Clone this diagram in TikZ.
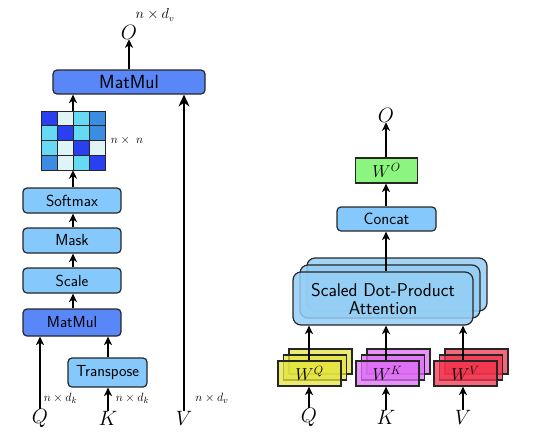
\documentclass[tikz,border=0pt]{standalone}
\usetikzlibrary{arrows.meta}
\definecolor{lbox}{HTML}{85C8FB}
\definecolor{dbox}{HTML}{5A87F7}
\definecolor{gbox}{HTML}{8CF57F}
\definecolor{abox}{HTML}{94CEF4}
\definecolor{ybox}{HTML}{E4E440}
\definecolor{pbox}{HTML}{DE6EF5}
\definecolor{rbox}{HTML}{F2344E}
\definecolor{cdk}{HTML}{2A3FF0}
\definecolor{cvl}{HTML}{E0F3F7}
\definecolor{ccy}{HTML}{66D9F5}
\definecolor{cmd}{HTML}{3A8DE0}
\definecolor{edge}{HTML}{262626}
\begin{document}
\begin{tikzpicture}[x=1pt,y=-1pt,
  opbox/.style={draw=edge, line width=1.2pt, rounded corners=4pt, fill=lbox,
    inner sep=0pt, font=\sffamily\fontsize{16}{19}\selectfont},
  wbox/.style={draw=edge, line width=1.2pt, inner sep=0pt, minimum width=63pt,
    minimum height=25pt, font=\fontsize{17}{20}\selectfont},
  attbox/.style={draw=edge, line width=1.2pt, rounded corners=8pt, fill=abox,
    fill opacity=0.85, minimum width=180pt, minimum height=53pt, inner sep=0pt,
    align=center, font=\sffamily\fontsize{18.5}{19}\selectfont},
  var/.style={inner sep=0pt, font=\fontsize{20}{24}\selectfont},
  dim/.style={inner sep=0pt, font=\fontsize{12.5}{14}\selectfont},
  arr/.style={line width=1.4pt, -{Stealth[length=8.5pt,width=8pt,inset=2.5pt]}},
  bigarr/.style={line width=1.4pt, -{Stealth[length=12pt,width=11pt,inset=4pt]}}
]
\useasboundingbox (0,0) rectangle (540,445);

% ---------------- left: scaled dot-product attention ----------------
\node[var] (Ol) at (129,32) {$O$};
\node[dim, font=\fontsize{13.5}{15}\selectfont] (Ldv) at (155,15) {$n\times d_v$};
\node[opbox, fill=dbox, minimum width=152pt, minimum height=24pt,
  font=\sffamily\fontsize{19}{21}\selectfont] (mm2) at (129,82) {MatMul};
\node[inner sep=0pt, minimum width=64pt, minimum height=59pt] (mat) at (73,140.5) {};
\foreach \c [count=\i from 0] in {cdk,cvl,ccy,cmd, ccy,cdk,ccy,cmd, ccy,cvl,cdk,cvl, cmd,cvl,ccy,cdk}{
  \pgfmathtruncatemacro\rr{int(\i/4)}
  \pgfmathtruncatemacro\cc{mod(\i,4)}
  \draw[fill=\c, draw=edge, line width=1pt] ({41+16*\cc},{111+14.75*\rr}) rectangle ++(16,14.75);
}
\node[dim, font=\fontsize{13}{15}\selectfont] (Lnn) at (127,140) {$n\times\;n$};
\node[opbox, minimum width=98pt, minimum height=25pt] (soft) at (72,200.5) {Softmax};
\node[opbox, minimum width=98pt, minimum height=25pt] (mask) at (72,240.5) {Mask};
\node[opbox, minimum width=98pt, minimum height=25pt] (scale) at (72,280.5) {Scale};
\node[opbox, fill=dbox, minimum width=98pt, minimum height=27pt] (mm1) at (72,322.5) {MatMul};
\node[opbox, minimum width=79pt, minimum height=29pt] (tr) at (107.5,372.5) {Transpose};
\node[var] (Ql) at (40,418) {$Q$};
\node[var] (Kl) at (108,418) {$K$};
\node[var] (Vl) at (184,418) {$V$};
\node[dim] (Ldk1) at (60.5,398) {$n\times d_k$};
\node[dim] (Ldk2) at (132.5,398) {$n\times d_k$};
\node[dim] (Ldv2) at (212,398) {$n\times d_v$};

\draw[arr] (mm2.north -| Ol) -- (Ol.south);
\draw[arr] (mat.north) -- (mat.north |- mm2.south);
\draw[arr] (soft.north -| mat) -- (mat.south);
\draw[arr] (mask.north -| mat) -- (soft.south -| mat);
\draw[arr] (scale.north -| mat) -- (mask.south -| mat);
\draw[arr] (mm1.north -| mat) -- (scale.south -| mat);
\draw[arr] (Ql.north) -- (Ql |- mm1.south);
\draw[arr] (Kl.north) -- (Kl |- tr.south);
\draw[arr] (tr.north -| Kl) -- (Kl |- mm1.south);
\draw[bigarr] (Vl.north) -- (Vl |- mm2.south);

% ---------------- right: multi-head attention ----------------
\node[var] (Or) at (386,115) {$O$};
\node[wbox, fill=gbox, minimum width=62pt] (wo) at (386.5,170.5) {$W^O$};
\node[opbox, minimum width=99pt, minimum height=24pt,
  font=\sffamily\fontsize{16.5}{19}\selectfont] (cat) at (386.5,219) {Concat};
\node[attbox] (att3) at (397,284.5) {};
\node[attbox] (att2) at (390,291.5) {};
\node[attbox, text opacity=1] (att1) at (383,298.5) {Scaled Dot-Product\\[-1pt]Attention};

\foreach \nm/\cx/\col in {q/309.5/ybox, k/387.5/pbox, v/465.5/rbox}{
  \node[wbox, fill=\col, fill opacity=0.75] (\nm3) at (\cx+11,361.5) {};
  \node[wbox, fill=\col, fill opacity=0.75] (\nm2) at (\cx+5.5,367.5) {};
}
\node[wbox, fill=ybox, fill opacity=0.75, text opacity=1] (q1) at (309.5,373.5) {$W^Q$};
\node[wbox, fill=pbox, fill opacity=0.75, text opacity=1] (k1) at (387.5,373.5) {$W^K$};
\node[wbox, fill=rbox, fill opacity=0.75, text opacity=1] (v1) at (465.5,373.5) {$W^V$};

\node[var] (Qr) at (309,417) {$Q$};
\node[var] (Kr) at (386,417) {$K$};
\node[var] (Vr) at (463,417) {$V$};

\draw[arr] (wo.north -| Or) -- (Or.south);
\draw[arr] (cat.north -| Or) -- (Or |- wo.south);
\draw[arr] (att1.north -| Or) -- (Or |- cat.south);
\draw[arr] (Qr.north) -- (Qr |- q1.south);
\draw[arr] (Kr.north) -- (Kr |- k1.south);
\draw[arr] (Vr.north) -- (Vr |- v1.south);
\draw[arr] (q1.north -| Qr) -- (Qr |- att1.south);
\draw[arr] (k1.north -| Kr) -- (Kr |- att1.south);
\draw[arr] (v1.north -| Vr) -- (Vr |- att1.south);
\end{tikzpicture}
\end{document}
